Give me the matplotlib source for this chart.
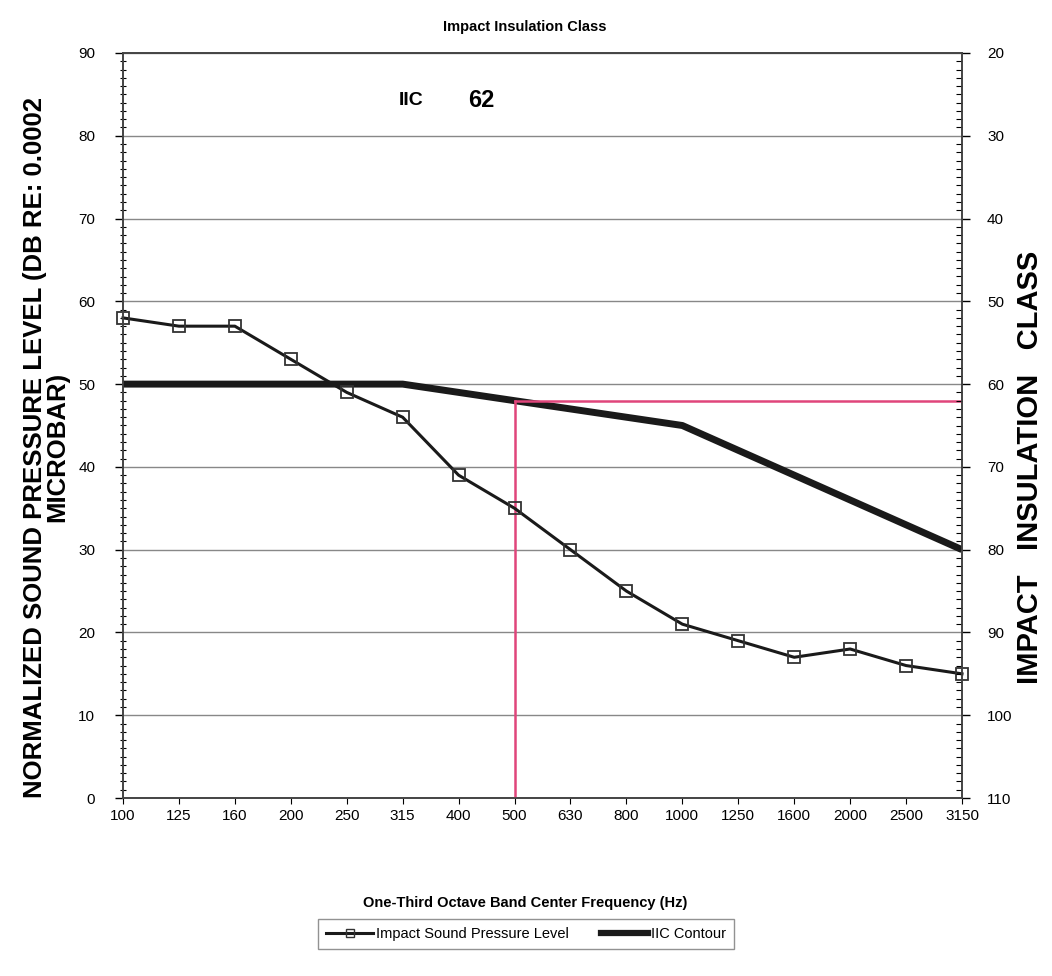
import matplotlib
matplotlib.use("Agg")
import matplotlib.pyplot as plt
from matplotlib.ticker import MultipleLocator
from matplotlib.lines import Line2D

# ---- data ----
freqs = ["100", "125", "160", "200", "250", "315", "400", "500", "630",
         "800", "1000", "1250", "1600", "2000", "2500", "3150"]
impact_spl = [58, 57, 57, 53, 49, 46, 39, 35, 30, 25, 21, 19, 17, 18, 16, 15]
iic_contour = [50, 50, 50, 50, 50, 50, 49, 48, 47, 46, 45, 42, 39, 36, 33, 30]
iic_value = 62
ref_band = "500"
left_ticks = list(range(0, 91, 10))
right_ticks = list(range(20, 111, 10))

plt.rcParams['font.family'] = ["Liberation Sans", "DejaVu Sans"]

fig = plt.figure(figsize=(10.52, 9.76), dpi=100)
ax = fig.add_axes([123/1052, 1-798/976, (962-123)/1052, (798-53)/976])

x = list(range(len(freqs)))
ax.plot(x, iic_contour, color="#1a1a1a", lw=5, solid_capstyle="butt", zorder=3)
ax.plot(x, impact_spl, color="#1a1a1a", lw=2.2, marker="s", markersize=9,
        markerfacecolor="none", markeredgecolor="#333333", markeredgewidth=1.3,
        zorder=6, clip_on=False)

ref_idx = freqs.index(ref_band)
ref_level = 110 - iic_value
pink = "#e0457b"
ax.plot([ref_idx, ref_idx], [0, ref_level], color=pink, lw=1.8, zorder=5)
ax.plot([ref_idx, len(freqs) - 1], [ref_level, ref_level], color=pink, lw=1.8, zorder=5)

ax.set_xlim(0, len(freqs) - 1)
ax.set_ylim(0, 90)
ax.set_xticks(x)
ax.set_xticklabels(freqs, fontsize=11)
ax.set_yticks(left_ticks)
ax.set_yticklabels([str(t) for t in left_ticks], fontsize=11)
ax.yaxis.set_minor_locator(MultipleLocator(1))
ax.tick_params(axis="y", which="major", direction="out", length=6, width=1, pad=14)
ax.tick_params(axis="y", which="minor", direction="inout", length=4, width=0.8)
ax.tick_params(axis="x", which="major", direction="out", length=4, width=0.8, pad=4)
ax.grid(axis="y", color="#888888", lw=1)
ax.set_axisbelow(True)
for s in ax.spines.values():
    s.set_color("#444444")
    s.set_linewidth(1.2)

ax2 = ax.twinx()
ax2.set_ylim(110, 20)
ax2.set_yticks(right_ticks)
ax2.set_yticklabels([str(t) for t in right_ticks], fontsize=11)
ax2.yaxis.set_minor_locator(MultipleLocator(1))
ax2.tick_params(axis="y", which="major", direction="out", length=6, width=1, pad=12)
ax2.tick_params(axis="y", which="minor", direction="in", length=4, width=0.8)
for s in ax2.spines.values():
    s.set_color("#444444")
    s.set_linewidth(1.2)

ax.text(5.15, 84.3, "IIC", fontsize=14, fontweight="bold", ha="center", va="center")
ax.text(6.4, 84.3, str(iic_value), fontsize=17, fontweight="bold", ha="center", va="center")

fig.text(525/1052, 1-27/976, "Impact Insulation Class", fontsize=10.5, fontweight="bold",
         ha="center", va="center")
fig.text(525/1052, 1-903/976, "One-Third Octave Band Center Frequency (Hz)", fontsize=10.5,
         fontweight="bold", ha="center", va="center")
fig.text(46/1052, 1-447/976, "NORMALIZED SOUND PRESSURE LEVEL (DB RE: 0.0002\nMICROBAR)",
         fontsize=18.5, fontweight="bold", rotation=90, ha="center", va="center",
         linespacing=0.9)
fig.text(1030/1052, 1-467/976, "IMPACT   INSULATION   CLASS", fontsize=21, fontweight="bold",
         rotation=90, ha="center", va="center")

handles = [
    Line2D([], [], color="#1a1a1a", lw=2.2, marker="s", markersize=6,
           markerfacecolor="none", markeredgecolor="#333333"),
    Line2D([], [], color="#1a1a1a", lw=4.5),
]
leg = fig.legend(handles, ["Impact Sound Pressure Level", "IIC Contour"],
                 loc="center", bbox_to_anchor=(526/1052, 1-934/976), ncol=2,
                 fontsize=10.5, frameon=True, fancybox=False, edgecolor="#777777",
                 handlelength=3.2, handletextpad=0.2, columnspacing=2.2,
                 borderpad=0.55)
leg.get_frame().set_linewidth(1.0)

fig.savefig("out.png", dpi=100)
